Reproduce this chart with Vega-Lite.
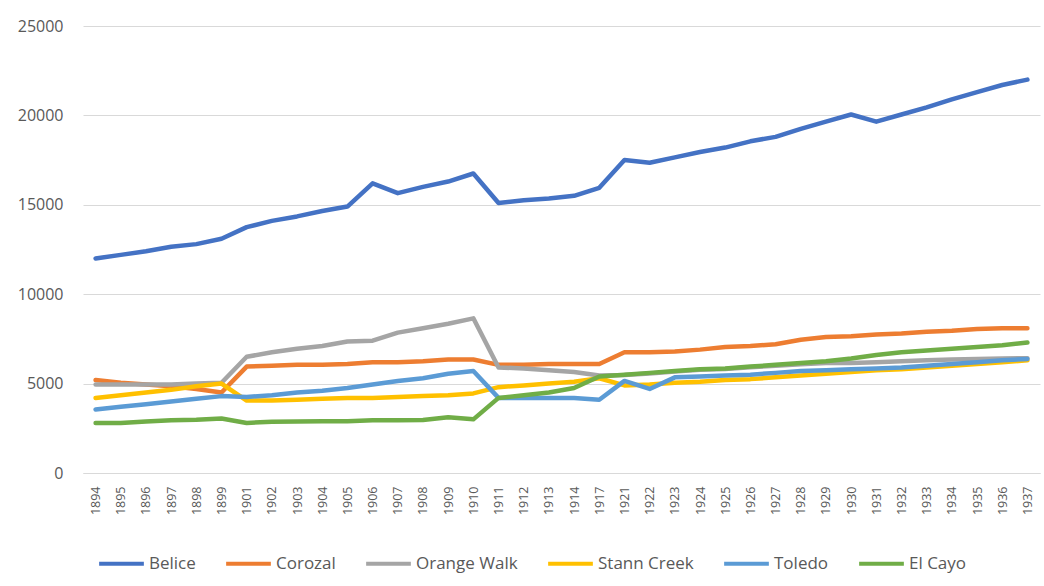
{
  "$schema": "https://vega.github.io/schema/vega-lite/v6.json",
  "width": 957,
  "height": 447,
  "autosize": {"type": "none"},
  "padding": {"left": 83, "top": 26, "right": 4, "bottom": 113},
  "background": "white",
  "config": {
    "font": "Open Sans",
    "view": {"stroke": null}
  },
  "data": {
    "values": [
      {"year": "1894", "Belice": 12000, "Corozal": 5200, "Orange Walk": 4950, "Stann Creek": 4200, "Toledo": 3550, "El Cayo": 2800},
      {"year": "1895", "Belice": 12200, "Corozal": 5050, "Orange Walk": 4950, "Stann Creek": 4350, "Toledo": 3700, "El Cayo": 2800},
      {"year": "1896", "Belice": 12400, "Corozal": 4950, "Orange Walk": 4950, "Stann Creek": 4500, "Toledo": 3850, "El Cayo": 2880},
      {"year": "1897", "Belice": 12650, "Corozal": 4850, "Orange Walk": 4950, "Stann Creek": 4650, "Toledo": 4000, "El Cayo": 2950},
      {"year": "1898", "Belice": 12800, "Corozal": 4700, "Orange Walk": 5000, "Stann Creek": 4850, "Toledo": 4150, "El Cayo": 2980},
      {"year": "1899", "Belice": 13100, "Corozal": 4500, "Orange Walk": 5050, "Stann Creek": 5000, "Toledo": 4300, "El Cayo": 3050},
      {"year": "1901", "Belice": 13750, "Corozal": 5950, "Orange Walk": 6500, "Stann Creek": 4050, "Toledo": 4250, "El Cayo": 2800},
      {"year": "1902", "Belice": 14100, "Corozal": 6000, "Orange Walk": 6750, "Stann Creek": 4050, "Toledo": 4350, "El Cayo": 2870},
      {"year": "1903", "Belice": 14350, "Corozal": 6050, "Orange Walk": 6950, "Stann Creek": 4100, "Toledo": 4500, "El Cayo": 2880},
      {"year": "1904", "Belice": 14650, "Corozal": 6050, "Orange Walk": 7100, "Stann Creek": 4150, "Toledo": 4600, "El Cayo": 2900},
      {"year": "1905", "Belice": 14900, "Corozal": 6100, "Orange Walk": 7350, "Stann Creek": 4200, "Toledo": 4750, "El Cayo": 2900},
      {"year": "1906", "Belice": 16200, "Corozal": 6200, "Orange Walk": 7400, "Stann Creek": 4200, "Toledo": 4950, "El Cayo": 2950},
      {"year": "1907", "Belice": 15650, "Corozal": 6200, "Orange Walk": 7850, "Stann Creek": 4250, "Toledo": 5150, "El Cayo": 2950},
      {"year": "1908", "Belice": 16000, "Corozal": 6250, "Orange Walk": 8100, "Stann Creek": 4300, "Toledo": 5300, "El Cayo": 2970},
      {"year": "1909", "Belice": 16300, "Corozal": 6350, "Orange Walk": 8350, "Stann Creek": 4350, "Toledo": 5550, "El Cayo": 3120},
      {"year": "1910", "Belice": 16750, "Corozal": 6350, "Orange Walk": 8650, "Stann Creek": 4450, "Toledo": 5700, "El Cayo": 3000},
      {"year": "1911", "Belice": 15100, "Corozal": 6050, "Orange Walk": 5900, "Stann Creek": 4800, "Toledo": 4200, "El Cayo": 4200},
      {"year": "1912", "Belice": 15250, "Corozal": 6050, "Orange Walk": 5850, "Stann Creek": 4900, "Toledo": 4200, "El Cayo": 4350},
      {"year": "1913", "Belice": 15350, "Corozal": 6100, "Orange Walk": 5750, "Stann Creek": 5000, "Toledo": 4200, "El Cayo": 4500},
      {"year": "1914", "Belice": 15500, "Corozal": 6100, "Orange Walk": 5650, "Stann Creek": 5100, "Toledo": 4200, "El Cayo": 4750},
      {"year": "1917", "Belice": 15950, "Corozal": 6100, "Orange Walk": 5450, "Stann Creek": 5300, "Toledo": 4100, "El Cayo": 5400},
      {"year": "1921", "Belice": 17500, "Corozal": 6750, "Orange Walk": 5480, "Stann Creek": 4900, "Toledo": 5150, "El Cayo": 5500},
      {"year": "1922", "Belice": 17350, "Corozal": 6750, "Orange Walk": 5570, "Stann Creek": 4950, "Toledo": 4700, "El Cayo": 5600},
      {"year": "1923", "Belice": 17650, "Corozal": 6800, "Orange Walk": 5670, "Stann Creek": 5050, "Toledo": 5350, "El Cayo": 5700},
      {"year": "1924", "Belice": 17950, "Corozal": 6900, "Orange Walk": 5770, "Stann Creek": 5100, "Toledo": 5400, "El Cayo": 5800},
      {"year": "1925", "Belice": 18200, "Corozal": 7050, "Orange Walk": 5820, "Stann Creek": 5200, "Toledo": 5450, "El Cayo": 5850},
      {"year": "1926", "Belice": 18550, "Corozal": 7100, "Orange Walk": 5920, "Stann Creek": 5250, "Toledo": 5500, "El Cayo": 5950},
      {"year": "1927", "Belice": 18800, "Corozal": 7200, "Orange Walk": 6000, "Stann Creek": 5350, "Toledo": 5600, "El Cayo": 6050},
      {"year": "1928", "Belice": 19250, "Corozal": 7450, "Orange Walk": 6080, "Stann Creek": 5450, "Toledo": 5700, "El Cayo": 6150},
      {"year": "1929", "Belice": 19650, "Corozal": 7600, "Orange Walk": 6150, "Stann Creek": 5550, "Toledo": 5750, "El Cayo": 6250},
      {"year": "1930", "Belice": 20050, "Corozal": 7650, "Orange Walk": 6150, "Stann Creek": 5650, "Toledo": 5800, "El Cayo": 6400},
      {"year": "1931", "Belice": 19650, "Corozal": 7750, "Orange Walk": 6200, "Stann Creek": 5750, "Toledo": 5850, "El Cayo": 6600},
      {"year": "1932", "Belice": 20050, "Corozal": 7800, "Orange Walk": 6250, "Stann Creek": 5800, "Toledo": 5900, "El Cayo": 6750},
      {"year": "1933", "Belice": 20450, "Corozal": 7900, "Orange Walk": 6300, "Stann Creek": 5900, "Toledo": 6000, "El Cayo": 6850},
      {"year": "1934", "Belice": 20900, "Corozal": 7950, "Orange Walk": 6350, "Stann Creek": 6000, "Toledo": 6100, "El Cayo": 6950},
      {"year": "1935", "Belice": 21300, "Corozal": 8050, "Orange Walk": 6380, "Stann Creek": 6100, "Toledo": 6200, "El Cayo": 7050},
      {"year": "1936", "Belice": 21700, "Corozal": 8100, "Orange Walk": 6400, "Stann Creek": 6200, "Toledo": 6300, "El Cayo": 7150},
      {"year": "1937", "Belice": 22000, "Corozal": 8100, "Orange Walk": 6420, "Stann Creek": 6300, "Toledo": 6380, "El Cayo": 7300}
    ]
  },
  "transform": [
    {"fold": ["Belice", "Corozal", "Orange Walk", "Stann Creek", "Toledo", "El Cayo"], "as": ["district", "value"]}
  ],
  "mark": {"type": "line", "strokeWidth": 4.5, "strokeJoin": "round", "strokeCap": "round"},
  "encoding": {
    "x": {
      "field": "year",
      "type": "ordinal",
      "scale": {"type": "point", "padding": 0.5},
      "axis": {
        "title": null,
        "labelAngle": 270,
        "labelAlign": "right",
        "labelBaseline": "middle",
        "labelFontSize": 12.5,
        "labelColor": "#595959",
        "labelPadding": 13,
        "ticks": false,
        "domainColor": "#d9d9d9",
        "domainWidth": 1,
        "grid": false
      }
    },
    "y": {
      "field": "value",
      "type": "quantitative",
      "scale": {"domain": [0, 25000], "nice": false},
      "axis": {
        "title": null,
        "values": [0, 5000, 10000, 15000, 20000, 25000],
        "format": "d",
        "labelFontSize": 16,
        "labelColor": "#595959",
        "labelPadding": 20,
        "ticks": false,
        "domain": false,
        "gridColor": "#d9d9d9",
        "gridWidth": 1
      }
    },
    "color": {
      "field": "district",
      "type": "nominal",
      "scale": {
        "domain": ["Belice", "Corozal", "Orange Walk", "Stann Creek", "Toledo", "El Cayo"],
        "range": ["#4472C4", "#ED7D31", "#A5A5A5", "#FFC000", "#5B9BD5", "#70AD47"]
      },
      "legend": {
        "title": null,
        "orient": "none",
        "legendX": 14,
        "legendY": 513,
        "direction": "horizontal",
        "symbolType": "stroke",
        "symbolStrokeWidth": 4,
        "symbolSize": 2000,
        "labelFontSize": 17,
        "labelColor": "#595959",
        "labelOffset": 3,
        "columnPadding": 22
      }
    }
  }
}
